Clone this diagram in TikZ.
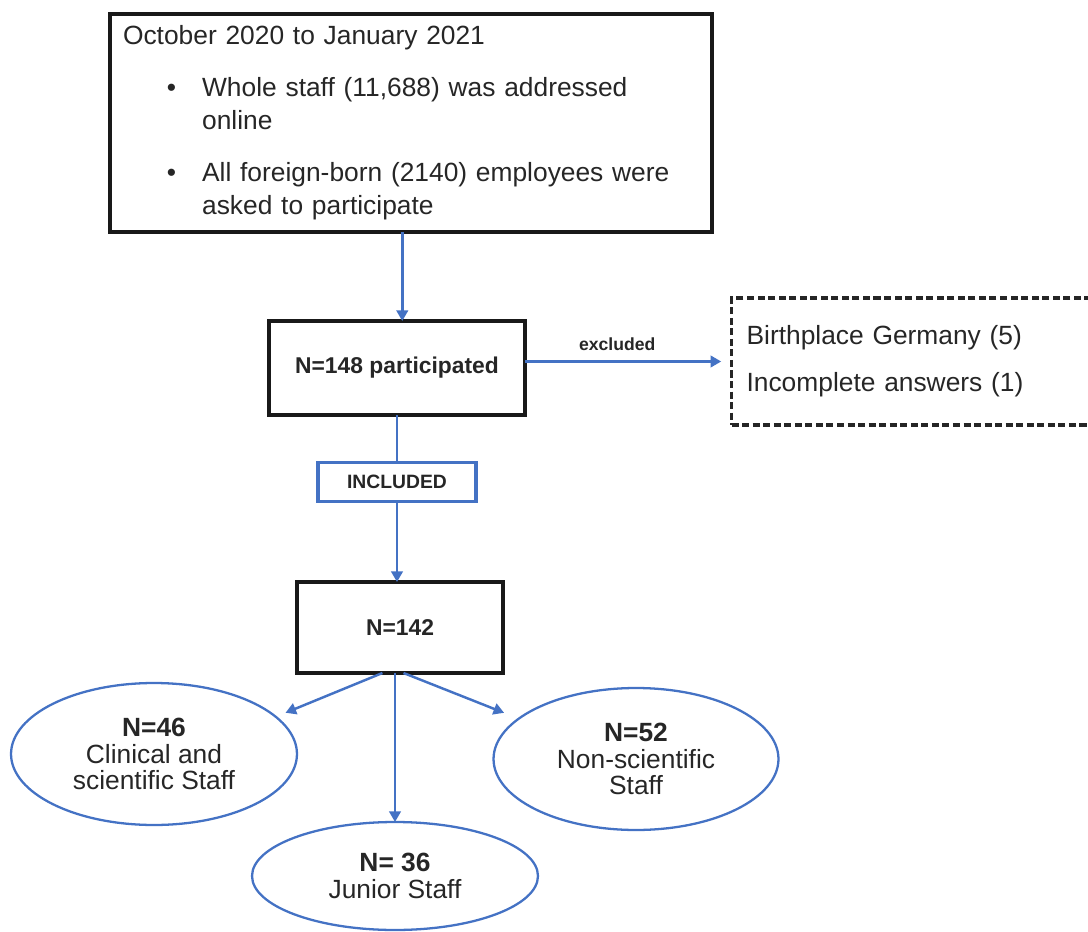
\documentclass[tikz,border=0pt]{standalone}
\usepackage{fontspec}
\setmainfont{Liberation Sans}
\usetikzlibrary{arrows.meta, shapes.geometric, positioning}
\definecolor{flowblue}{HTML}{4472C4}
\definecolor{flowtext}{HTML}{262626}
\newcommand{\bulletline}{\makebox[45pt][l]{\hspace{25pt}\textbullet}}
\newcommand{\bulletindent}{\hspace*{45pt}}

\begin{document}
\begin{tikzpicture}[x=0.02cm, y=-0.02cm,
    textfont/.style={font=\fontsize{15}{18.7}\selectfont, text=flowtext},
    blackbox/.style={draw=black!90, line width=2pt, rectangle, inner sep=0pt, outer sep=0pt, text=flowtext},
    bluebox/.style={draw=flowblue, line width=1.8pt, rectangle, inner sep=0pt, fill=white, text=flowtext},
    staffoval/.style={draw=flowblue, line width=1.3pt, ellipse, inner sep=0pt, outer sep=0pt,
        minimum width=5.72cm, align=center, text=flowtext, font=\fontsize{15}{15.3}\selectfont},
    flowline/.style={draw=flowblue, line width=1.4pt},
    flowarrow/.style={flowline, -{Triangle[length=6pt, width=6.5pt]}}]

    \useasboundingbox (0,0) rectangle (1088,932);

    % Recruitment period
    \node[blackbox, textfont, text width=11.52cm, inner xsep=7.4pt, minimum height=4.36cm, align=left] (period) at (411,123)
        {October 2020 to January 2021\\[11pt]
         \bulletline Whole staff (11,688) was addressed\\
         \bulletindent online\\[11pt]
         \bulletline All foreign-born (2140) employees were\\
         \bulletindent asked to participate};

    % Participants and exclusions
    \node[blackbox, minimum width=5.12cm, minimum height=1.88cm, font=\bfseries\fontsize{13}{16}\selectfont] (participated) at (397,368) {N=148 participated};
    \node[draw=black!85, line width=1.8pt, dash pattern=on 4pt off 2pt, anchor=west, textfont, text width=7.0cm, inner xsep=0.3cm,
        minimum height=2.54cm, align=left] (excluded) at (730,361.5)
        {Birthplace Germany (5)\\[8pt]Incomplete answers (1)};

    \draw[flowarrow] ([xshift=3pt]participated.north |- period.south) -- ([xshift=3pt]participated.north);
    \draw[flowarrow, shorten >=5pt] (excluded.west -| participated.east) -- (excluded.west)
        node[pos=0.45, above=2pt, font=\bfseries\fontsize{10}{12}\selectfont, text=flowtext] {excluded};

    % Included sample
    \node[bluebox, minimum width=3.16cm, minimum height=0.78cm, font=\bfseries\fontsize{11}{13}\selectfont] (included) at (397,482) {INCLUDED};
    \node[blackbox, minimum width=4.12cm, minimum height=1.82cm, font=\bfseries\fontsize{13}{16}\selectfont] (total) at (400,627.5) {N=142};

    \draw[flowline] (participated.south) -- (included.north);
    \draw[flowarrow] (included.south) -- (included.south |- total.north);

    % Staff groups
    \node[staffoval, minimum height=2.84cm] (clinical) at (154,754) {\textbf{N=46}\\Clinical and\\scientific Staff};
    \node[staffoval, minimum width=5.70cm, minimum height=2.84cm] (nonscientific) at (636,759) {\textbf{N=52}\\Non-scientific\\Staff};
    \node[staffoval, minimum height=2.16cm] (junior) at (395,876) {\textbf{N= 36}\\Junior Staff};

    \draw[flowarrow, shorten >=6pt] ([xshift=-10pt]total.south) -- (clinical.17);
    \draw[flowarrow, shorten >=9pt] ([xshift=2pt]total.south) -- (nonscientific.161);
    \draw[flowarrow] (junior.north |- total.south) -- (junior.north);
\end{tikzpicture}
\end{document}
